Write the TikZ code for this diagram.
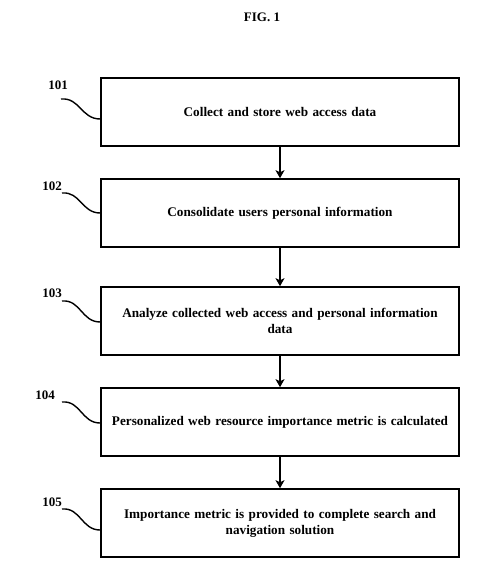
\documentclass[tikz,border=0pt]{standalone}
\usepackage{fontspec}
\setmainfont{Liberation Serif}
\usepackage{tikz}
\usetikzlibrary{calc,arrows.meta}

\begin{document}
\begin{tikzpicture}[x=1pt,y=1pt,>={Stealth[length=8pt,width=9pt,inset=2pt]},
  stepbox/.style={draw,line width=1.6pt,minimum width=358pt,minimum height=68pt,
    text width=345pt,align=center,font=\bfseries\fontsize{13.2}{16}\selectfont},
  reflabel/.style={font=\bfseries\fontsize{13}{14}\selectfont},
  lead/.style={line width=1.4pt}]

\useasboundingbox (0,0) rectangle (500,-581);

% Title
\node[font=\bfseries\fontsize{13}{14}\selectfont] (title) at (262,-17) {FIG. 1};

% Draw steps
\node[stepbox] (s1) at (280,-112) {Collect and store web access data};
\node[stepbox] (s2) at (280,-213) {Consolidate users personal information};
\node[stepbox] (s3) at (280,-321) {Analyze collected web access and personal information\\ data};
\node[stepbox] (s4) at (280,-422) {Personalized web resource importance metric is calculated};
\node[stepbox] (s5) at (280,-523) {Importance metric is provided to complete search and\\ navigation solution};

% Draw flow
\draw[->, line width=1.3pt] (s1) -- (s2);
\draw[->, line width=1.3pt] (s2) -- (s3);
\draw[->, line width=1.3pt] (s3) -- (s4);
\draw[->, line width=1.3pt] (s4) -- (s5);

% Reference numerals
\node[reflabel] (r1) at (58,-85) {101};
\node[reflabel] (r2) at (52,-186) {102};
\node[reflabel] (r3) at (52,-293) {103};
\node[reflabel] (r4) at (45,-395) {104};
\node[reflabel] (r5) at (52,-502) {105};

\coordinate (c1) at (61,-99);
\coordinate (c2) at (62,-193);
\coordinate (c3) at (62,-301);
\coordinate (c4) at (62,-402);
\coordinate (c5) at (62,-509);

\draw[lead] (c1) to[out=5,in=180,looseness=1.1] (s1.west |- 0,-119);
\draw[lead] (c2) to[out=5,in=180,looseness=1.1] (s2.west |- 0,-213);
\draw[lead] (c3) to[out=5,in=180,looseness=1.1] (s3.west |- 0,-322);
\draw[lead] (c4) to[out=5,in=180,looseness=1.1] (s4.west |- 0,-423);
\draw[lead] (c5) to[out=5,in=180,looseness=1.1] (s5.west |- 0,-530);

\end{tikzpicture}
\end{document}
